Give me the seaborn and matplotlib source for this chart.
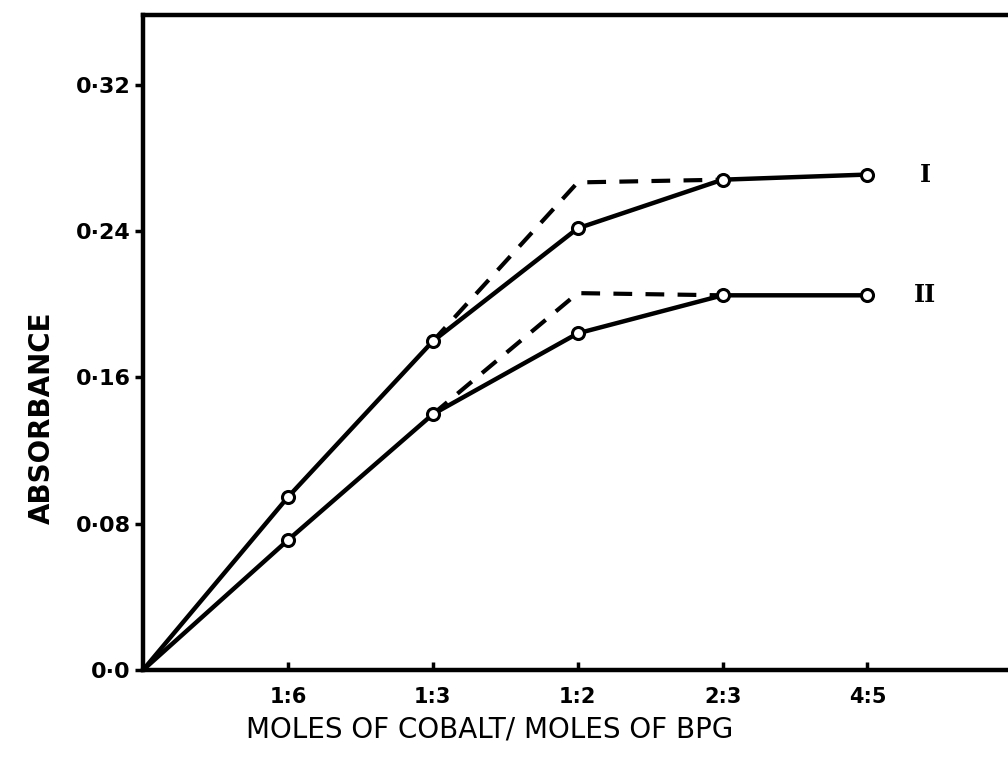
import matplotlib
matplotlib.use("Agg")
import matplotlib.pyplot as plt
import seaborn as sns
import pandas as pd

# ---- data ----
ratio_pos = [0, 1, 2, 3, 4, 5]
ratio_labels = ["1:6", "1:3", "1:2", "2:3", "4:5"]
absorb_I = [0.0, 0.0945, 0.1797, 0.2414, 0.268, 0.2708]
absorb_II = [0.0, 0.071, 0.1398, 0.184, 0.2048, 0.2048]
dash_pos = [2, 3, 4]
dash_I = [0.1797, 0.2665, 0.268]
dash_II = [0.1398, 0.206, 0.2048]
y_ticks = [0.0, 0.08, 0.16, 0.24, 0.32]
y_tick_labels = ["0·0", "0·08", "0·16", "0·24", "0·32"]
curve_names = ["I", "II"]

sns.set_style("ticks")
plt.rcParams['font.family'] = ['DejaVu Sans']
plt.rcParams['text.color'] = 'black'
plt.rcParams['axes.labelcolor'] = 'black'
plt.rcParams['xtick.color'] = 'black'
plt.rcParams['ytick.color'] = 'black'

fig = plt.figure(figsize=(10.08, 7.62), dpi=100)
ax = fig.add_axes([0.1419, 0.1207, 0.8581, 0.8596])

df_I = pd.DataFrame({"x": ratio_pos, "y": absorb_I})
df_II = pd.DataFrame({"x": ratio_pos, "y": absorb_II})
dI = pd.DataFrame({"x": dash_pos, "y": dash_I})
dII = pd.DataFrame({"x": dash_pos, "y": dash_II})

for d in (df_I, df_II):
    sns.lineplot(data=d, x="x", y="y", ax=ax, color="black", lw=3.2,
                 sort=False, estimator=None)
for d in (dI, dII):
    sns.lineplot(data=d, x="x", y="y", ax=ax, color="black", lw=3.0,
                 sort=False, estimator=None, dashes=False, linestyle=(0, (4.5, 3.2)))
for d in (df_I, df_II):
    sns.scatterplot(data=d.iloc[1:], x="x", y="y", ax=ax, s=75,
                    facecolor="white", edgecolor="black", linewidth=2.2, zorder=5)

ax.set_xlim(0, 5.97)
ax.set_ylim(0, 0.358)
ax.set_xticks(ratio_pos[1:])
ax.set_xticklabels(ratio_labels, fontsize=15, fontweight="bold", color="black")
ax.set_yticks(y_ticks)
ax.set_yticklabels(y_tick_labels, fontsize=16, fontweight="bold", color="black")
ax.tick_params(axis="x", direction="in", length=6, width=2.5, pad=12, colors="black")
ax.tick_params(axis="y", direction="out", length=6, width=2.5, pad=3, colors="black")

for s in ["left", "bottom", "top"]:
    ax.spines[s].set_linewidth(3.2)
    ax.spines[s].set_color("black")
ax.spines["right"].set_visible(False)

ax.set_xlabel("MOLES OF COBALT/ MOLES OF BPG", fontsize=20, color="black")
ax.xaxis.set_label_coords(0.401, -0.07)
ax.set_ylabel("ABSORBANCE", fontsize=20, fontweight="bold", color="black")
ax.yaxis.set_label_coords(-0.101, 0.385)

ax.text(5.4, absorb_I[-1], curve_names[0], fontsize=17, fontweight="bold",
        family="DejaVu Serif", ha="center", va="center", color="black")
ax.text(5.4, absorb_II[-1], curve_names[1], fontsize=17, fontweight="bold",
        family="DejaVu Serif", ha="center", va="center", color="black")

fig.savefig("out.png", dpi=100)
